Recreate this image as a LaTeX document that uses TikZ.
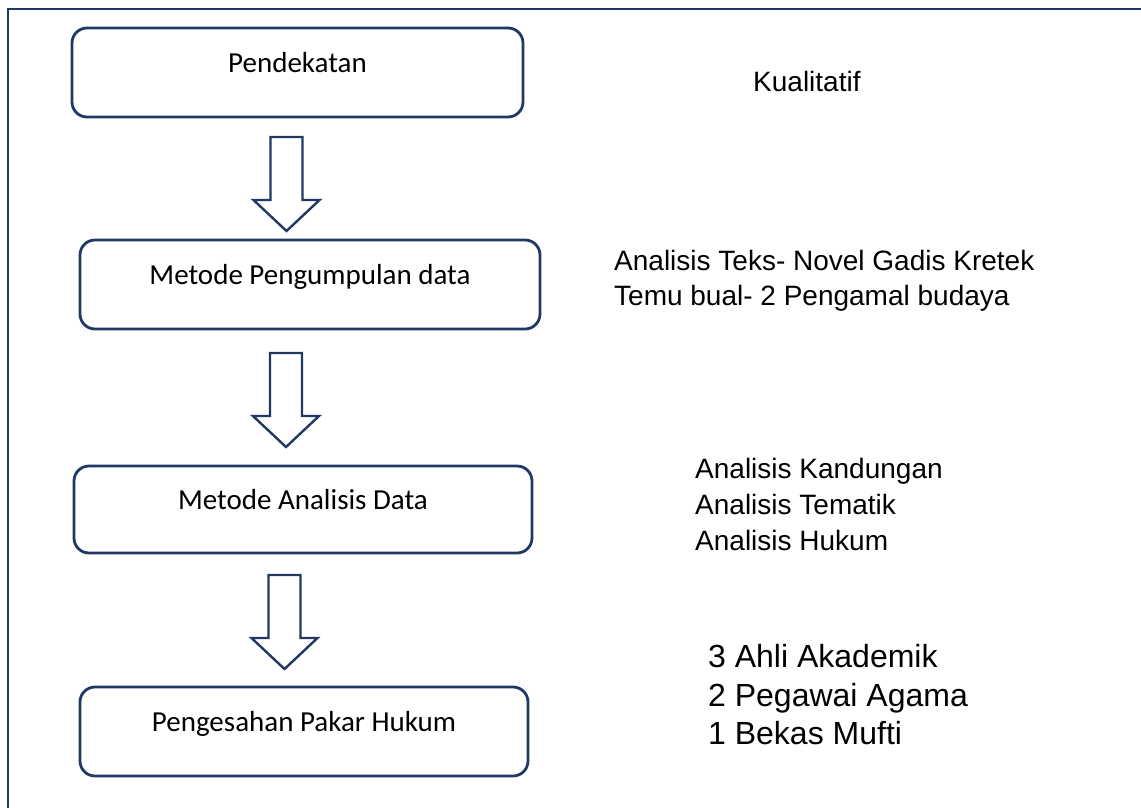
\documentclass[tikz,border=0pt]{standalone}
\usepackage{fontspec}
\setmainfont{Carlito}
\newfontfamily\arialf{Liberation Sans}
\definecolor{navy}{HTML}{1F3864}
\begin{document}
\begin{tikzpicture}[x=1pt,y=-1pt,
  stepbox/.style={draw=navy, line width=2.8pt, rounded corners=15pt,
    minimum height=89pt, inner sep=0pt, text=black,
    font=\fontsize{29}{35}\selectfont, text height=20pt, text depth=20pt},
  side/.style={anchor=base west, inner sep=0pt, text=black,
    font=\arialf\fontsize{28}{34}\selectfont},
  sidebig/.style={side, font=\arialf\fontsize{32}{38}\selectfont},
  downarrow/.pic={\draw[navy, line width=2.4pt, line join=miter, fill=white]
    (-16,0) -- (16,0) -- (16,63) -- (33,63) -- (0,94) -- (-33,63) -- (-16,63) -- cycle;}
]
\useasboundingbox (0,0) rectangle (1141,807);
\begin{scope}
  \clip (0,0) rectangle (1141,807);
  \draw[navy, line width=2.8pt] (8,9) rectangle (1200,900);
\end{scope}

\node[stepbox, minimum width=451pt] (b1) at (297.5,72.5) {Pendekatan};
\node[stepbox, minimum width=460pt] (b2) at (310,284.5) {Metode Pengumpulan data};
\node[stepbox, minimum width=458pt, minimum height=87pt] (b3) at (303,509.5) {Metode Analisis Data};
\node[stepbox, minimum width=448pt] (b4) at (304,731.5) {Pengesahan Pakar Hukum};

\pic (a1) at (286.5,137) {downarrow};
\pic (a2) at (286,353) {downarrow};
\pic (a3) at (284.5,575) {downarrow};

\node[side] (t1) at (753,91) {Kualitatif};
\node[side] (t2a) at (614,270) {Analisis Teks- Novel Gadis Kretek};
\node[side] (t2b) at (614,305) {Temu bual- 2 Pengamal budaya};
\node[side] (t3a) at (695,478) {Analisis Kandungan};
\node[side] (t3b) at (695,514) {Analisis Tematik};
\node[side] (t3c) at (695,550) {Analisis Hukum};
\node[sidebig] (t4a) at (708,667) {3 Ahli Akademik};
\node[sidebig] (t4b) at (708,706) {2 Pegawai Agama};
\node[sidebig] (t4c) at (708,744) {1 Bekas Mufti};
\end{tikzpicture}
\end{document}
